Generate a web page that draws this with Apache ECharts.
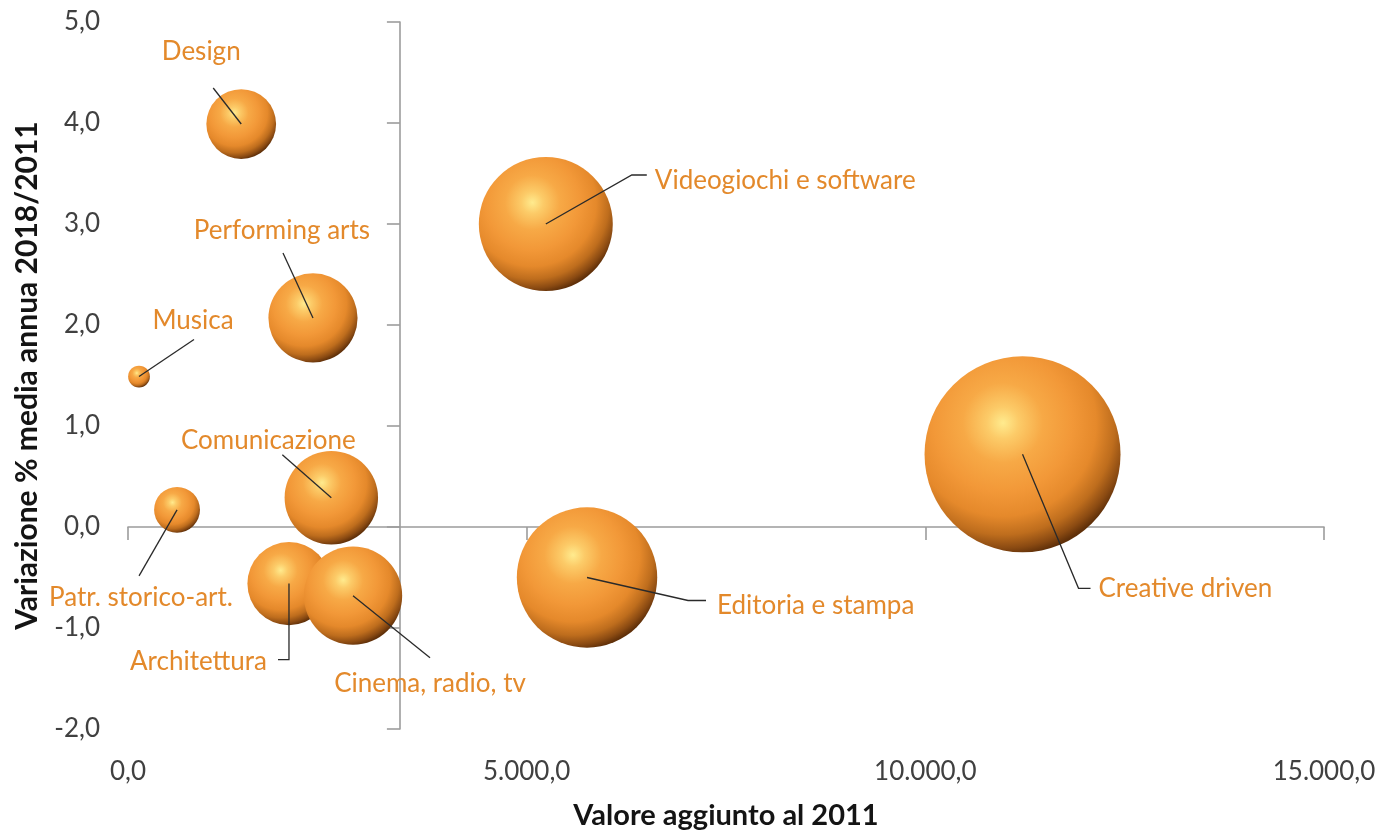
<!DOCTYPE html>
<html>
<head>
<meta charset="utf-8">
<script src="https://cdn.jsdelivr.net/npm/echarts@6/dist/echarts.min.js"></script>
<style>
  html, body { margin: 0; padding: 0; background: #ffffff; }
  #chart { width: 1384px; height: 835px; }
</style>
</head>
<body>
<div id="chart"></div>
<script>
// ---- data ----
const categories = [
  'Architettura', 'Comunicazione', 'Design', 'Videogiochi e software',
  'Editoria e stampa', 'Cinema, radio, tv', 'Musica', 'Performing arts',
  'Patr. storico-art.', 'Creative driven'
];
// Valore aggiunto al 2011 (x, also bubble size)
const valoreAggiunto = [2019, 2550, 1420, 5240, 5757, 2822, 138, 2320, 615, 11219];
// Variazione % media annua 2018/2011 (y)
const variazione = [-0.56, 0.29, 3.99, 3.00, -0.50, -0.68, 1.49, 2.07, 0.17, 0.72];
const xTicks = [0, 5000, 10000, 15000];
const yTicks = [-2, -1, 0, 1, 2, 3, 4, 5];

// ---- layout (pixel offsets of leader lines / labels from bubble centre) ----
const leaderLayout = {
  'Architettura':           { line: [[0, 76], [-11, 76]],  text: [-22, 78],  align: 'right' },
  'Comunicazione':          { line: [[-49, -43]],          text: [-63, -57], align: 'center' },
  'Design':                 { line: [[-28, -36]],          text: [-40, -72], align: 'center' },
  'Videogiochi e software': { line: [[86, -49], [101, -49]], text: [109, -43], align: 'left' },
  'Editoria e stampa':      { line: [[101, 23], [119, 23]], text: [130, 28], align: 'left' },
  'Cinema, radio, tv':      { line: [[77, 62]],            text: [77, 88],   align: 'center' },
  'Musica':                 { line: [[55, -37]],           text: [54, -56],  align: 'center' },
  'Performing arts':        { line: [[-30, -65]],          text: [-31, -87], align: 'center' },
  'Patr. storico-art.':     { line: [[-38, 66]],           text: [-36, 88],  align: 'center' },
  'Creative driven':        { line: [[56, 134], [68, 134]], text: [76, 134], align: 'left' }
};

const FONT = 'Lato, "Open Sans", sans-serif';
const MAX_DIAM = 196;
const maxSize = Math.max(...valoreAggiunto);
// vertical axis crosses at the mean of the x values
const xCross = valoreAggiunto.reduce((a, b) => a + b, 0) / valoreAggiunto.length;

function fmtX(v) {
  const s = Math.round(Math.abs(v)).toString().replace(/\B(?=(\d{3})+(?!\d))/g, '.');
  return (v < 0 ? '-' : '') + s + ',0';
}
function fmtY(v) { return v.toFixed(1).replace('.', ','); }

const bubbleColor = {
  type: 'radial', x: 0.4, y: 0.34, r: 0.68,
  colorStops: [
    { offset: 0.0, color: '#FFEB8E' },
    { offset: 0.12, color: '#FCCB68' },
    { offset: 0.3, color: '#F7A946' },
    { offset: 0.52, color: '#F29838' },
    { offset: 0.7, color: '#E5892B' },
    { offset: 0.84, color: '#BE6D1D' },
    { offset: 0.94, color: '#8A4A12' },
    { offset: 1.0, color: '#603009' }
  ]
};

const axisGray = '#9C9C9C';

const chart = echarts.init(document.getElementById('chart'), null, { renderer: 'canvas' });
chart.setOption({
  backgroundColor: '#ffffff',
  animation: false,
  grid: { left: 128, right: 60, top: 22, bottom: 106, containLabel: false, outerBoundsMode: 'none' },
  xAxis: [
    {
      type: 'value', min: xTicks[0], max: xTicks[xTicks.length - 1], interval: 5000,
      position: 'bottom',
      axisLine: { show: false, onZero: false },
      axisTick: { show: false },
      splitLine: { show: false },
      axisLabel: { margin: 30, fontSize: 26, color: '#404040', fontFamily: FONT, formatter: fmtX },
      name: 'Valore aggiunto al 2011', nameLocation: 'middle', nameGap: 72,
      nameTextStyle: { fontSize: 29, fontWeight: 'bold', color: '#141414', fontFamily: FONT }
    },
    {
      type: 'value', min: xTicks[0], max: xTicks[xTicks.length - 1], interval: 5000,
      position: 'bottom',
      axisLine: { show: true, onZero: true, onZeroAxisIndex: 0, lineStyle: { color: axisGray, width: 1.6 } },
      axisTick: { show: true, inside: false, length: 13, lineStyle: { color: axisGray, width: 1.6 } },
      axisLabel: { show: false },
      splitLine: { show: false }
    },
    {
      type: 'value', min: xTicks[0] - xCross, max: xTicks[xTicks.length - 1] - xCross,
      show: false
    }
  ],
  yAxis: [
    {
      type: 'value', min: yTicks[0], max: yTicks[yTicks.length - 1], interval: 1,
      position: 'left',
      axisLine: { show: false, onZero: false },
      axisTick: { show: false },
      splitLine: { show: false },
      axisLabel: { margin: 28, fontSize: 26, color: '#404040', fontFamily: FONT, formatter: fmtY },
      name: 'Variazione % media annua 2018/2011', nameLocation: 'middle', nameGap: 86,
      nameTextStyle: { fontSize: 30, fontWeight: 'bold', color: '#141414', fontFamily: FONT }
    },
    {
      type: 'value', min: yTicks[0], max: yTicks[yTicks.length - 1], interval: 1,
      position: 'left',
      axisLine: { show: true, onZero: true, onZeroAxisIndex: 2, lineStyle: { color: axisGray, width: 1.6 } },
      axisTick: { show: true, inside: false, length: 13, lineStyle: { color: axisGray, width: 1.6 } },
      axisLabel: { show: false },
      splitLine: { show: false }
    }
  ],
  series: [
    {
      type: 'scatter', xAxisIndex: 0, yAxisIndex: 0, z: 3,
      data: categories.map((c, i) => ({ name: c, value: [valoreAggiunto[i], variazione[i], valoreAggiunto[i]] })),
      symbol: 'circle',
      symbolSize: d => MAX_DIAM * Math.sqrt(d[2] / maxSize),
      itemStyle: { color: bubbleColor, opacity: 1 },
      emphasis: { disabled: true },
      silent: true
    },
    {
      type: 'custom', xAxisIndex: 0, yAxisIndex: 0, z: 6, silent: true, clip: false,
      encode: { x: 0, y: 1 },
      data: categories.map((c, i) => [valoreAggiunto[i], variazione[i], i]),
      renderItem: function (params, api) {
        const i = api.value(2);
        const name = categories[i];
        const L = leaderLayout[name];
        const c = api.coord([api.value(0), api.value(1)]);
        const pts = [c].concat(L.line.map(p => [c[0] + p[0], c[1] + p[1]]));
        return {
          type: 'group',
          children: [
            { type: 'polyline', shape: { points: pts }, style: { stroke: '#2a2a2a', lineWidth: 1.3, fill: null } },
            {
              type: 'text',
              style: {
                text: name, x: c[0] + L.text[0], y: c[1] + L.text[1],
                align: L.align, verticalAlign: 'middle',
                fill: '#E3892B', fontSize: 26, fontFamily: FONT
              }
            }
          ]
        };
      }
    }
  ]
});
</script>
</body>
</html>
